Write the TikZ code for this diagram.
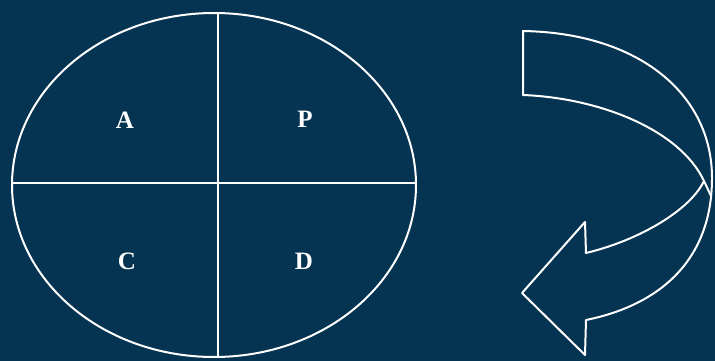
\documentclass[tikz,border=0pt]{standalone}
\usepackage{fontspec}
\setmainfont{Liberation Serif}
\usetikzlibrary{shapes.geometric}
\definecolor{navy}{RGB}{5,52,82}
\tikzset{
  wline/.style={draw=white, line width=2pt, line join=round},
  quad/.style={text=white, font=\fontsize{25}{30}\selectfont\bfseries, inner sep=0pt}
}
\begin{document}
\begin{tikzpicture}[x=1pt, y=-1pt]
\fill[navy] (0,0) rectangle (715,361);
\useasboundingbox (0,0) rectangle (715,361);
% PDCA circle
\node[wline, ellipse, minimum width=404pt, minimum height=344pt, inner sep=0pt] (circ) at (214,185) {};
\draw[wline] (218,13.1) -- (218,356.9);
\draw[wline] (12.1,183) -- (415.9,183);
\node[quad] (A) at (125,120) {A};
\node[quad] (P) at (305,119) {P};
\node[quad] (C) at (127,261) {C};
\node[quad] (D) at (304,261) {D};
% curved arrow
\draw[wline] (523,31) .. controls (640,33) and (712,95) .. (712,178)
  .. controls (712,260) and (660,305) .. (586,320)
  -- (585,355) -- (522,293) -- (585,222) -- (586,253)
  .. controls (640,240) and (690,210) .. (704,181)
  .. controls (680,130) and (600,98) .. (523,95) -- cycle;
\draw[wline] (704,181) -- (711,196);
\end{tikzpicture}
\end{document}
